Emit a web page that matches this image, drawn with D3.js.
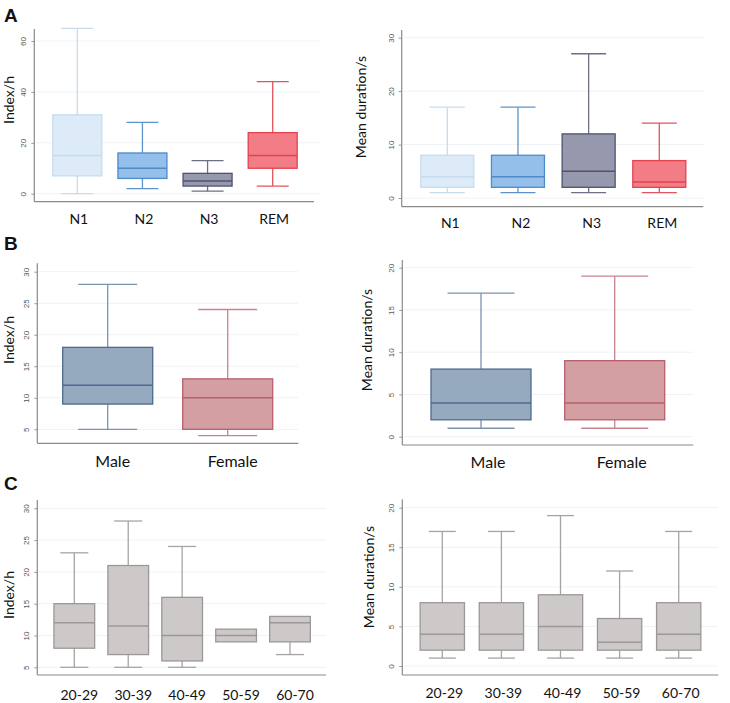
<!DOCTYPE html>
<html><head><meta charset="utf-8">
<script src="https://cdn.jsdelivr.net/npm/d3@7"></script>
<style>body{margin:0;background:#fff}svg{display:block}</style>
</head><body>
<svg id="c" width="730" height="703"></svg>
<script>
// ---- Data ----
const stageCats = ["N1", "N2", "N3", "REM"];
const stageIndexMin = [0, 2, 1, 3];
const stageIndexQ1 = [7, 6, 3, 10];
const stageIndexMed = [15, 10, 5, 15];
const stageIndexQ3 = [31, 16, 8, 24];
const stageIndexMax = [65, 28, 13, 44];
const stageDurMin = [1, 1, 1, 1];
const stageDurQ1 = [2, 2, 2, 2];
const stageDurMed = [4, 4, 5, 3];
const stageDurQ3 = [8, 8, 12, 7];
const stageDurMax = [17, 17, 27, 14];

const sexCats = ["Male", "Female"];
const sexIndexMin = [5, 4];
const sexIndexQ1 = [9, 5];
const sexIndexMed = [12, 10];
const sexIndexQ3 = [18, 13];
const sexIndexMax = [28, 24];
const sexDurMin = [1, 1];
const sexDurQ1 = [2, 2];
const sexDurMed = [4, 4];
const sexDurQ3 = [8, 9];
const sexDurMax = [17, 19];

const ageCats = ["20-29", "30-39", "40-49", "50-59", "60-70"];
const ageIndexMin = [5, 5, 5, 9, 7];
const ageIndexQ1 = [8, 7, 6, 9, 9];
const ageIndexMed = [12, 11.5, 10, 10, 12];
const ageIndexQ3 = [15, 21, 16, 11, 13];
const ageIndexMax = [23, 28, 24, 11, 13];
const ageDurMin = [1, 1, 1, 1, 1];
const ageDurQ1 = [2, 2, 2, 2, 2];
const ageDurMed = [4, 4, 5, 3, 4];
const ageDurQ3 = [8, 8, 9, 6, 8];
const ageDurMax = [17, 17, 19, 12, 17];

const ticksIndexA = [0, 20, 40, 60];
const ticksDurA = [0, 10, 20, 30];
const ticksIndexBC = [5, 10, 15, 20, 25, 30];
const ticksDurBC = [0, 5, 10, 15, 20];

// ---- Styles ----
const stageFill = ["#dcebf7", "#94bfea", "#9698ad", "#f27d86"];
const stageStroke = ["#c6dcee", "#4f8bc9", "#50536b", "#e3424f"];
const stageWhisk = ["#c6dcee", "#5b93cc", "#6c6f85", "#e3525e"];
const sexFill = ["#95a9bf", "#d39fa3"];
const sexStroke = ["#4e6a8e", "#b7606b"];
const sexWhisk = ["#7c93ae", "#c9838b"];
const ageFill = ["#cdc9c9"];
const ageStroke = ["#9c9898"];
const ageWhisk = ["#a7a3a3"];

const svg = d3.select("#c");
const FONT = "Lato, 'Open Sans', sans-serif";

function build(cats, mn, q1, md, q3, mx) {
  return cats.map((c, i) => ({cat: c, min: mn[i], q1: q1[i], med: md[i], q3: q3[i], max: mx[i]}));
}

function panel(o) {
  const g = svg.append("g");
  const y = d3.scaleLinear().domain(o.dom).range(o.yr);
  const x = d3.scalePoint().domain(o.data.map(d => d.cat)).range(o.xr);
  // gridlines
  g.selectAll("line.grid").data(o.ticks).join("line")
    .attr("x1", o.ax + 1).attr("x2", o.gridEnd)
    .attr("y1", d => y(d)).attr("y2", d => y(d))
    .attr("stroke", "#eef2f5").attr("stroke-width", 1);
  // y axis
  const yAxis = d3.axisLeft(y).tickValues(o.ticks).tickSize(3).tickPadding(4);
  const ya = g.append("g").attr("transform", `translate(${o.ax},0)`).call(yAxis);
  ya.select(".domain").remove();
  ya.selectAll(".tick line").attr("stroke", "#999");
  ya.selectAll(".tick text")
    .attr("font-family", "'Liberation Sans', Arial, sans-serif").attr("font-size", 8).attr("fill", "#555")
    .attr("transform", "rotate(-90)").attr("text-anchor", "middle")
    .attr("x", 0).attr("y", -10).attr("dy", "0.35em")
    .attr("transform", function(){ return "rotate(-90)"; });
  // custom placement of rotated tick labels
  ya.selectAll(".tick text").attr("transform", null).attr("x", null).attr("y", null).attr("dy", null)
    .attr("text-anchor", "middle")
    .attr("transform", "translate(-8,0) rotate(-90)").attr("dy", "0");
  g.append("line").attr("x1", o.ax).attr("x2", o.ax).attr("y1", o.top).attr("y2", o.bottom)
    .attr("stroke", "#8a8a8a").attr("stroke-width", 1.2);
  g.append("line").attr("x1", o.ax).attr("x2", o.axEnd).attr("y1", o.bottom).attr("y2", o.bottom)
    .attr("stroke", "#8a8a8a").attr("stroke-width", 1.2);
  // boxes
  const bw = o.bw, cw = o.cw;
  const b = g.selectAll("g.box").data(o.data).join("g");
  b.each(function(d, i) {
    const s = d3.select(this);
    const cx = x(d.cat);
    const fill = o.fill[i % o.fill.length], st = o.stroke[i % o.stroke.length], wk = o.whisk[i % o.whisk.length];
    if (d.max > d.q3) {
      s.append("line").attr("x1", cx).attr("x2", cx).attr("y1", y(d.q3)).attr("y2", y(d.max)).attr("stroke", wk).attr("stroke-width", 1.3);
      s.append("line").attr("x1", cx - cw/2).attr("x2", cx + cw/2).attr("y1", y(d.max)).attr("y2", y(d.max)).attr("stroke", wk).attr("stroke-width", 1.3);
    }
    if (d.min < d.q1) {
      s.append("line").attr("x1", cx).attr("x2", cx).attr("y1", y(d.q1)).attr("y2", y(d.min)).attr("stroke", wk).attr("stroke-width", 1.3);
      s.append("line").attr("x1", cx - cw/2).attr("x2", cx + cw/2).attr("y1", y(d.min)).attr("y2", y(d.min)).attr("stroke", wk).attr("stroke-width", 1.3);
    }
    s.append("rect").attr("x", cx - bw/2).attr("width", bw).attr("y", y(d.q3)).attr("height", y(d.q1) - y(d.q3))
      .attr("fill", fill).attr("stroke", st).attr("stroke-width", 1.3);
    s.append("line").attr("x1", cx - bw/2).attr("x2", cx + bw/2).attr("y1", y(d.med)).attr("y2", y(d.med))
      .attr("stroke", st).attr("stroke-width", 1.5);
  });
  // category labels
  g.selectAll("text.cat").data(o.data).join("text")
    .attr("x", d => x(d.cat) + o.lblDx).attr("y", o.lblY)
    .attr("text-anchor", "middle").attr("font-family", FONT).attr("font-size", o.lblSize).attr("fill", "#111")
    .text(d => d.cat);
  // y title
  g.append("text").attr("transform", `translate(${o.titleX},${o.titleY}) rotate(-90)`)
    .attr("text-anchor", "middle").attr("font-family", FONT).attr("font-size", 14).attr("fill", "#111")
    .text(o.title);
}

// Panel A
panel({data: build(stageCats, stageIndexMin, stageIndexQ1, stageIndexMed, stageIndexQ3, stageIndexMax),
  dom: [0, 60], yr: [193.7, 41], xr: [77.3, 272.7], ticks: ticksIndexA,
  ax: 34.3, axEnd: 314, top: 29, bottom: 201.7, gridEnd: 320, bw: 49, cw: 32,
  fill: stageFill, stroke: stageStroke, whisk: stageWhisk,
  lblDx: 1.5, lblY: 224, lblSize: 14, title: "Index/h", titleX: 14, titleY: 100});
panel({data: build(stageCats, stageDurMin, stageDurQ1, stageDurMed, stageDurQ3, stageDurMax),
  dom: [0, 30], yr: [198, 37.7], xr: [447.3, 659.3], ticks: ticksDurA,
  ax: 401.7, axEnd: 703.3, top: 30, bottom: 206.7, gridEnd: 705, bw: 53, cw: 35,
  fill: stageFill, stroke: stageStroke, whisk: stageWhisk,
  lblDx: 3, lblY: 228, lblSize: 14, title: "Mean duration/s", titleX: 366, titleY: 107});

// Panel B
panel({data: build(sexCats, sexIndexMin, sexIndexQ1, sexIndexMed, sexIndexQ3, sexIndexMax),
  dom: [5, 30], yr: [429.3, 271.7], xr: [107.7, 227.7], ticks: ticksIndexBC,
  ax: 37.3, axEnd: 298.3, top: 263.3, bottom: 443.3, gridEnd: 298, bw: 90, cw: 59,
  fill: sexFill, stroke: sexStroke, whisk: sexWhisk,
  lblDx: 5, lblY: 467, lblSize: 16, title: "Index/h", titleX: 14, titleY: 340});
panel({data: build(sexCats, sexDurMin, sexDurQ1, sexDurMed, sexDurQ3, sexDurMax),
  dom: [0, 20], yr: [436.7, 267.7], xr: [481, 614.7], ticks: ticksDurBC,
  ax: 402.3, axEnd: 693.3, top: 260, bottom: 445, gridEnd: 693, bw: 100, cw: 67,
  fill: sexFill, stroke: sexStroke, whisk: sexWhisk,
  lblDx: 7, lblY: 468, lblSize: 16, title: "Mean duration/s", titleX: 372, titleY: 340});

// Panel C
panel({data: build(ageCats, ageIndexMin, ageIndexQ1, ageIndexMed, ageIndexQ3, ageIndexMax),
  dom: [5, 30], yr: [667.3, 508.3], xr: [74.3, 290], ticks: ticksIndexBC,
  ax: 37.3, axEnd: 326, top: 500, bottom: 675, gridEnd: 326, bw: 40.7, cw: 28,
  fill: ageFill, stroke: ageStroke, whisk: ageWhisk,
  lblDx: 5, lblY: 700, lblSize: 14, title: "Index/h", titleX: 14, titleY: 595});
panel({data: build(ageCats, ageDurMin, ageDurQ1, ageDurMed, ageDurQ3, ageDurMax),
  dom: [0, 20], yr: [666, 507.7], xr: [442.3, 678.7], ticks: ticksDurBC,
  ax: 402.3, axEnd: 718.3, top: 499.3, bottom: 675, gridEnd: 718, bw: 44.3, cw: 27,
  fill: ageFill, stroke: ageStroke, whisk: ageWhisk,
  lblDx: 2, lblY: 698, lblSize: 14, title: "Mean duration/s", titleX: 374, titleY: 577});

// Panel letters
[["A", 4, 22], ["B", 4, 250], ["C", 4, 490]].forEach(([t, xx, yy]) => {
  svg.append("text").attr("x", xx).attr("y", yy).attr("font-family", "'Liberation Sans', Arial, sans-serif")
    .attr("font-weight", "bold").attr("font-size", 19).attr("fill", "#111").text(t);
});
</script>
</body></html>
